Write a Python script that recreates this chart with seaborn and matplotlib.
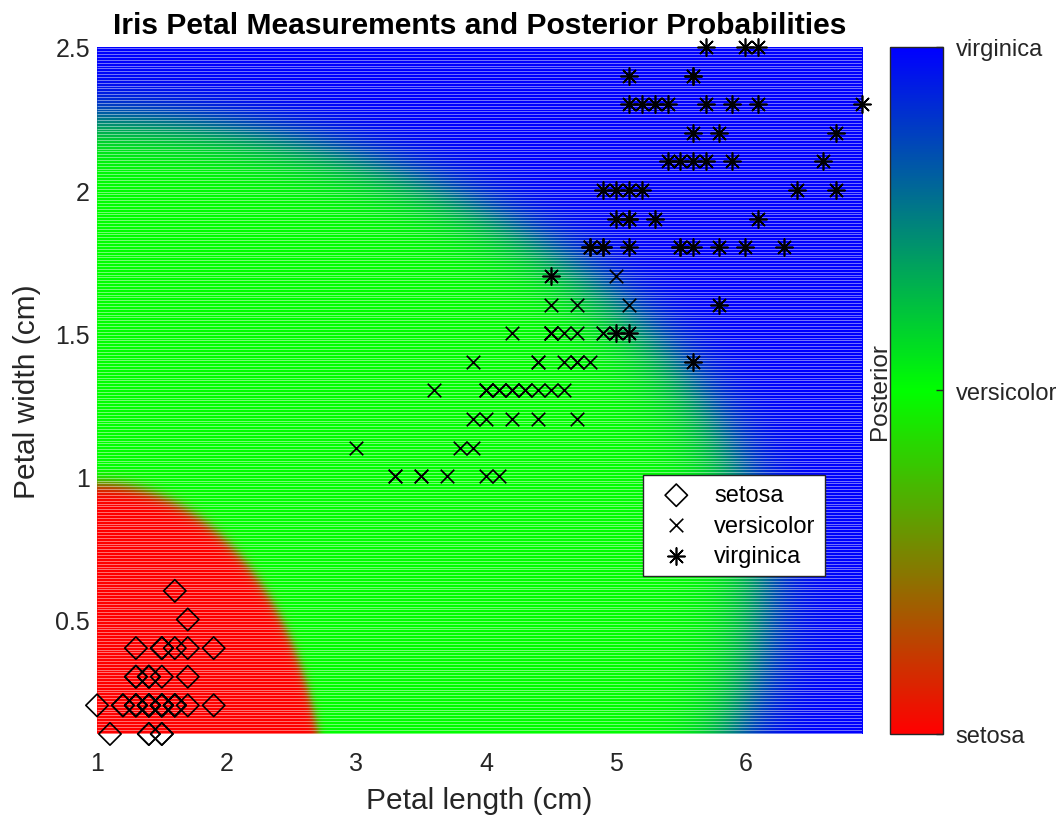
import numpy as np
import pandas as pd
import matplotlib
matplotlib.use('Agg')
import matplotlib.pyplot as plt
import seaborn as sns
from matplotlib.colors import LinearSegmentedColormap, Normalize
from matplotlib.cm import ScalarMappable

# Dữ liệu: chiều dài / chiều rộng cánh hoa (cm) của tập Iris
species = ['setosa', 'versicolor', 'virginica']

setosa_length = [1.4, 1.4, 1.3, 1.5, 1.4, 1.7, 1.4, 1.5, 1.4, 1.5, 1.5, 1.6, 1.4, 1.1, 1.2, 1.5, 1.3,
                 1.4, 1.7, 1.5, 1.7, 1.5, 1.0, 1.7, 1.9, 1.6, 1.6, 1.5, 1.4, 1.6, 1.6, 1.5, 1.5, 1.4,
                 1.5, 1.2, 1.3, 1.4, 1.3, 1.5, 1.3, 1.3, 1.3, 1.6, 1.9, 1.4, 1.6, 1.4, 1.5, 1.4]
setosa_width = [0.2, 0.2, 0.2, 0.2, 0.2, 0.4, 0.3, 0.2, 0.2, 0.1, 0.2, 0.2, 0.1, 0.1, 0.2, 0.4, 0.4,
                0.3, 0.3, 0.3, 0.2, 0.4, 0.2, 0.5, 0.2, 0.2, 0.4, 0.2, 0.2, 0.2, 0.2, 0.4, 0.1, 0.2,
                0.2, 0.2, 0.2, 0.1, 0.2, 0.2, 0.3, 0.3, 0.2, 0.6, 0.4, 0.3, 0.2, 0.2, 0.2, 0.2]

versicolor_length = [4.7, 4.5, 4.9, 4.0, 4.6, 4.5, 4.7, 3.3, 4.6, 3.9, 3.5, 4.2, 4.0, 4.7, 3.6, 4.4,
                     4.5, 4.1, 4.5, 3.9, 4.8, 4.0, 4.9, 4.7, 4.3, 4.4, 4.8, 5.0, 4.5, 3.5, 3.8, 3.7,
                     3.9, 5.1, 4.5, 4.5, 4.7, 4.4, 4.1, 4.0, 4.4, 4.6, 4.0, 3.3, 4.2, 4.2, 4.2, 4.3,
                     3.0, 4.1]
versicolor_width = [1.4, 1.5, 1.5, 1.3, 1.5, 1.3, 1.6, 1.0, 1.3, 1.4, 1.0, 1.5, 1.0, 1.4, 1.3, 1.4,
                    1.5, 1.0, 1.5, 1.1, 1.8, 1.3, 1.5, 1.2, 1.3, 1.4, 1.4, 1.7, 1.5, 1.0, 1.1, 1.0,
                    1.2, 1.6, 1.5, 1.6, 1.5, 1.3, 1.3, 1.3, 1.2, 1.4, 1.2, 1.0, 1.3, 1.2, 1.3, 1.3,
                    1.1, 1.3]

virginica_length = [6.0, 5.1, 5.9, 5.6, 5.8, 6.6, 4.5, 6.3, 5.8, 6.1, 5.1, 5.3, 5.5, 5.0, 5.1, 5.3,
                    5.5, 6.7, 6.9, 5.0, 5.7, 4.9, 6.7, 4.9, 5.7, 6.0, 4.8, 4.9, 5.6, 5.8, 6.1, 6.4,
                    5.6, 5.1, 5.6, 6.1, 5.6, 5.5, 4.8, 5.4, 5.6, 5.1, 5.1, 5.9, 5.7, 5.2, 5.0, 5.2,
                    5.4, 5.1]
virginica_width = [2.5, 1.9, 2.1, 1.8, 2.2, 2.1, 1.7, 1.8, 1.8, 2.5, 2.0, 1.9, 2.1, 2.0, 2.4, 2.3,
                   1.8, 2.2, 2.3, 1.5, 2.3, 2.0, 2.0, 1.8, 2.1, 1.8, 1.8, 1.8, 2.1, 1.6, 1.9, 2.0,
                   2.2, 1.5, 1.4, 2.3, 2.4, 1.8, 1.8, 2.1, 2.4, 2.3, 1.9, 2.3, 2.5, 2.3, 1.9, 2.0,
                   2.3, 1.8]

df = pd.DataFrame({
    'PetalLength': setosa_length + versicolor_length + virginica_length,
    'PetalWidth': setosa_width + versicolor_width + virginica_width,
    'Species': ['setosa'] * 50 + ['versicolor'] * 50 + ['virginica'] * 50,
})

# Mô hình Naive Bayes Gauss -> xác suất hậu nghiệm trên lưới
X = df[['PetalLength', 'PetalWidth']].to_numpy()
step = 0.01
xs = np.arange(X[:, 0].min(), X[:, 0].max() + step / 2, step)
ys = np.arange(X[:, 1].min(), X[:, 1].max() + step / 2, step)
gx, gy = np.meshgrid(xs, ys)
grid = np.column_stack([gx.ravel(), gy.ravel()])
logp = []
for sp in species:
    sub = df.loc[df['Species'] == sp, ['PetalLength', 'PetalWidth']].to_numpy()
    mu = sub.mean(axis=0)
    sd = sub.std(axis=0, ddof=1)
    ll = -0.5 * ((grid - mu) / sd) ** 2 - np.log(sd * np.sqrt(2 * np.pi))
    logp.append(ll.sum(axis=1) + np.log(len(sub) / len(df)))
logp = np.array(logp).T
logp -= logp.max(axis=1, keepdims=True)
post = np.exp(logp)
post /= post.sum(axis=1, keepdims=True)
post_img = post.reshape(len(ys), len(xs), 3)

plt.rcParams['font.family'] = ['Liberation Sans', 'DejaVu Sans']
text_col = '#262626'

fig = plt.figure(figsize=(10.59, 8.2), dpi=100)
ax = fig.add_axes([0.0916, 0.1037, 0.7224, 0.8378])

# vùng hậu nghiệm (ảnh RGB) + các đường lưới mờ giữa các hàng điểm
ax.imshow(post_img, origin='lower', aspect='auto', interpolation='bilinear',
          extent=(xs[0] - step / 2, xs[-1] + step / 2, ys[0] - step / 2, ys[-1] + step / 2))
ax.hlines(ys[:-1] + step / 2, xs[0], xs[-1], colors='white', alpha=0.45, linewidth=0.7)

sns.scatterplot(data=df[df['Species'] == 'setosa'], x='PetalLength', y='PetalWidth', ax=ax,
                marker='D', s=130, facecolors='none', edgecolor='black', linewidth=1.2,
                label='setosa', clip_on=False, zorder=3)
sns.scatterplot(data=df[df['Species'] == 'versicolor'], x='PetalLength', y='PetalWidth', ax=ax,
                marker='x', s=95, color='black', linewidth=1.2,
                label='versicolor', clip_on=False, zorder=3)
sns.scatterplot(data=df[df['Species'] == 'virginica'], x='PetalLength', y='PetalWidth', ax=ax,
                marker=(8, 2, 0), s=150, color='black', linewidth=1.2,
                label='virginica', clip_on=False, zorder=3)

ax.set_xlim(1.0, 6.9)
ax.set_ylim(0.1, 2.5)
ax.set_xticks([1, 2, 3, 4, 5, 6])
ax.set_yticks([0.5, 1, 1.5, 2, 2.5])
ax.set_xticklabels(['1', '2', '3', '4', '5', '6'])
ax.set_yticklabels(['0.5', '1', '1.5', '2', '2.5'])
for s in ax.spines.values():
    s.set_visible(False)
ax.tick_params(length=0, labelsize=18, colors=text_col)
ax.tick_params(axis='x', pad=12)
ax.tick_params(axis='y', pad=5)
ax.set_xlabel('Petal length (cm)', fontsize=21.5, color=text_col, labelpad=8)
ax.set_ylabel('Petal width (cm)', fontsize=21.5, color=text_col, labelpad=10)
ax.set_title('Iris Petal Measurements and Posterior Probabilities', fontsize=21.6,
             fontweight='bold', pad=10)

leg = ax.legend(loc='upper left', bbox_to_anchor=(0.714, 0.377), borderaxespad=0,
                fontsize=17, frameon=True, fancybox=False, framealpha=1,
                edgecolor='#262626', handletextpad=0.6, labelspacing=0.35,
                borderpad=0.4, handlelength=2.0)
leg.get_frame().set_linewidth(1.0)

# Thanh màu
cax = fig.add_axes([0.8404, 0.1037, 0.05, 0.8378])
cmap = LinearSegmentedColormap.from_list('post', ['#ff0000', '#00ff00', '#0000ff'])
cb = fig.colorbar(ScalarMappable(norm=Normalize(0, 1), cmap=cmap), cax=cax)
cb.set_ticks([0, 0.5, 1])
cb.set_ticklabels(species)
cb.outline.set_edgecolor('#262626')
cb.outline.set_linewidth(1.0)
cax.tick_params(direction='in', length=5, width=1, colors=text_col, labelsize=17, pad=9)
cax.yaxis.set_label_position('left')
cb.set_label('Posterior', fontsize=17.5, color=text_col, labelpad=-1)

fig.savefig('out.png', dpi=100)
